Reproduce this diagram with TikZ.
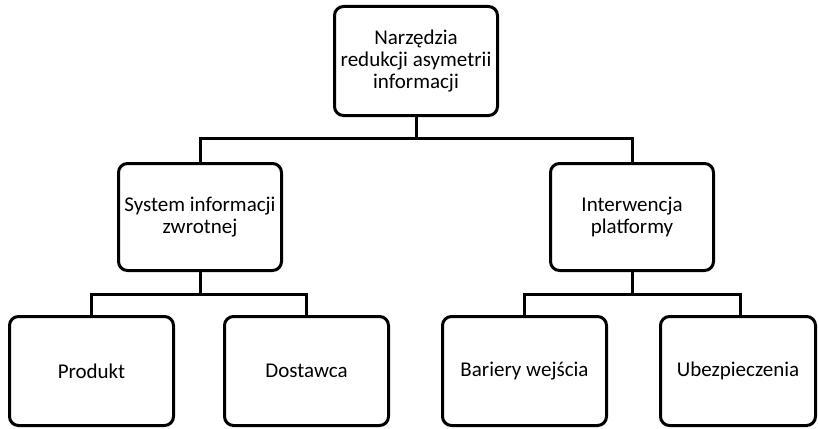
\documentclass[tikz,border=0pt]{standalone}
\usepackage{fontspec}
\setmainfont{Carlito}
\usetikzlibrary{positioning}

\begin{document}
\begin{tikzpicture}[x=1pt, y=-1pt]
  \fontsize{21}{22}\selectfont
  \tikzset{
  	box/.style={draw=black, line width=3pt, rounded corners=9pt, fill=white, align=center, inner sep=2pt},
  	topbox/.style={box, minimum width=163pt, minimum height=109pt},
  	midbox/.style={box, minimum width=163pt, minimum height=107pt},
  	leafbox/.style={box, minimum width=164pt, minimum height=109pt},
  	link/.style={line width=3pt},
  }
  \useasboundingbox (0,0) rectangle (818,428);

  \coordinate (bt) at (416,138); % bus under the root
  \coordinate (bl) at (200,294); % bus under the left branch
  \coordinate (br) at (632,294); % bus under the right branch

  % Root, then the two branches.
  \path (416,61) node[topbox] (root) {Narzędzia\\redukcji asymetrii\\informacji};
  \path (200,217) node[midbox] (feedback) {System informacji\\zwrotnej};
  \path (632,217) node[midbox] (platform) {Interwencja\\platformy};

  % The four leaves.
  \path (91.5,371) node[leafbox] (product) {Produkt};
  \path (306.5,371) node[leafbox] (supplier) {Dostawca};
  \path (524.5,371) node[leafbox] (entry) {Bariery wejścia};
  \path (738,371) node[leafbox, minimum width=155pt] (insurance) {Ubezpieczenia};

  % Connectors.
  \draw[link] (root.south) -- (bt) -| (feedback.north);
  \draw[link] (bt) -| (platform.north);
  \draw[link] (feedback.south) -- (bl) -| (product.north);
  \draw[link] (bl) -| (supplier.north);
  \draw[link] (platform.south) -- (br) -| (entry.north);
  \draw[link] (br) -| ([xshift=2pt]insurance.north);
\end{tikzpicture}
\end{document}
